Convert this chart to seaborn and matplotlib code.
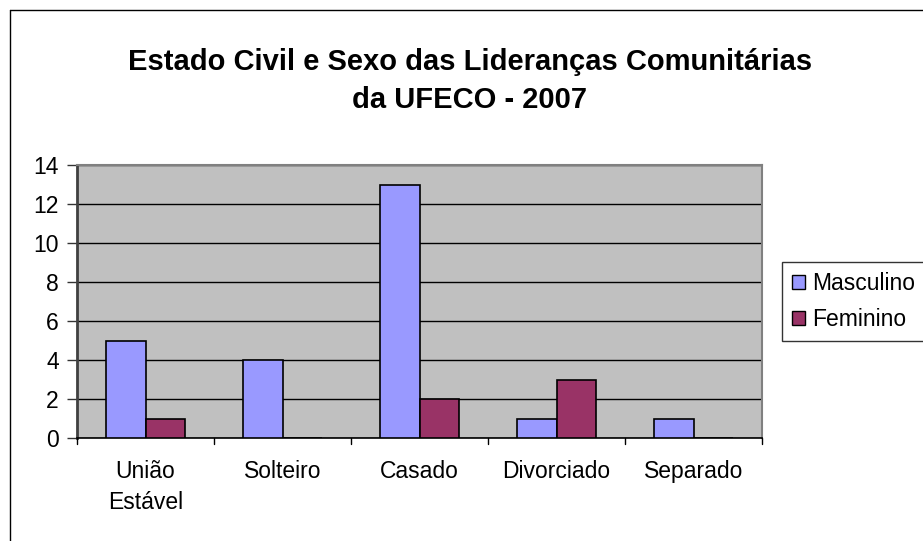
import matplotlib
matplotlib.use("Agg")
import matplotlib.pyplot as plt
import seaborn as sns
import pandas as pd
from matplotlib.patches import Patch
from matplotlib.lines import Line2D

categories = ["União\nEstável", "Solteiro", "Casado", "Divorciado", "Separado"]
masculino = [5, 4, 13, 1, 1]
feminino = [1, 0, 2, 3, 0]
series_names = ["Masculino", "Feminino"]
colors = ["#9999FF", "#993366"]
yticks = [0, 2, 4, 6, 8, 10, 12, 14]

df = pd.DataFrame({
    "Categoria": categories * 2,
    "Valor": masculino + feminino,
    "Sexo": [series_names[0]] * len(categories) + [series_names[1]] * len(categories),
})

sns.set_style("white")
plt.rcParams["font.family"] = ["Liberation Sans", "DejaVu Sans"]
plt.rcParams["text.color"] = "black"
plt.rcParams["xtick.color"] = "black"
plt.rcParams["ytick.color"] = "black"

W, H = 923, 541
fig = plt.figure(figsize=(W / 100, H / 100), dpi=100)
ax = fig.add_axes([77 / W, 1 - 438 / H, (762 - 77) / W, (438 - 165) / H])
ax.set_facecolor("#C0C0C0")

sns.barplot(data=df, x="Categoria", y="Valor", hue="Sexo", order=categories,
            hue_order=series_names, palette=colors, saturation=1, width=0.58,
            edgecolor="black", linewidth=1.2, ax=ax, legend=False, zorder=3)

ax.set_ylim(0, 14)
ax.set_xlim(-0.5, len(categories) - 0.5)
ax.set_yticks(yticks)
ax.set_yticklabels([str(v) for v in yticks], fontsize=16.5)
ax.set_xticks(range(len(categories)))
ax.set_xticklabels(categories, fontsize=16.5, linespacing=1.45)
ax.tick_params(axis="x", length=0, pad=16)
ax.tick_params(axis="y", length=7, width=1, color="#333333", pad=6, direction="out", left=True)
for b in [i + 0.5 for i in range(-1, len(categories))]:
    ax.plot([b, b], [0, -0.33], color="black", lw=1, clip_on=False, zorder=4)
ax.grid(axis="y", color="black", lw=1, zorder=0)
ax.set_axisbelow(True)
ax.set_xlabel("")
ax.set_ylabel("")
for s in ["top", "right"]:
    ax.spines[s].set_color("#808080")
    ax.spines[s].set_linewidth(1.5)
ax.spines["left"].set_color("#404040")
ax.spines["left"].set_linewidth(2)
ax.spines["bottom"].set_color("black")
ax.spines["bottom"].set_linewidth(1.2)

fig.text(470 / W, 1 - 62 / H, "Estado Civil e Sexo das Lideranças Comunitárias",
         ha="center", va="center", fontsize=21, fontweight="bold")
fig.text(470 / W, 1 - 100 / H, "da UFECO - 2007",
         ha="center", va="center", fontsize=21, fontweight="bold")

handles = [Patch(facecolor=c, edgecolor="black", lw=1) for c in colors]
leg = fig.legend(handles, series_names, loc="upper left",
                 bbox_to_anchor=(782 / W, 1 - 262 / H), fontsize=16.5,
                 frameon=True, fancybox=False, edgecolor="black",
                 handlelength=0.55, handleheight=0.55, handletextpad=0.3,
                 labelspacing=0.55, borderpad=0.45, borderaxespad=0)
leg.get_frame().set_linewidth(1)

fig.add_artist(Line2D([10 / W, 10 / W], [0, 1 - 10 / H], color="black", lw=1,
                      transform=fig.transFigure))
fig.add_artist(Line2D([10 / W, 1], [1 - 10 / H, 1 - 10 / H], color="black", lw=1,
                      transform=fig.transFigure))

fig.savefig("out.png", dpi=100)
